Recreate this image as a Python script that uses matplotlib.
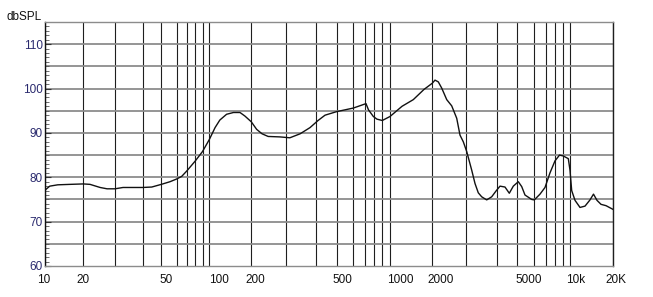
import numpy as np
import matplotlib
matplotlib.use('Agg')
import matplotlib.pyplot as plt
from matplotlib.ticker import MultipleLocator, NullLocator
import matplotlib.transforms as mtransforms

plt.rcParams['font.family'] = ['Liberation Sans', 'DejaVu Sans']

# ---- data ----
freq_hz = [10, 10.9, 12.6, 15.7, 20, 21.8, 24.8, 27.1, 30, 32.6, 40, 44.6, 50, 55.5, 60,
           64.9, 70, 80, 90, 100, 110, 119, 133, 149, 166, 180, 200, 213, 227, 244, 280,
           312, 344, 378, 409, 441, 500, 600, 710, 736, 789, 832, 900, 1005, 1222, 1468,
           1747, 2000, 2066, 2150, 2240, 2379, 2526, 2683, 2791, 2904, 3020, 3165, 3264,
           3366, 3475, 3642, 3817, 3974, 4145, 4376, 4585, 4788, 5054, 5242, 5430, 5835,
           6000, 6481, 6934, 7446, 8000, 8528, 9000, 9704, 9955, 10230, 10800, 11720,
           12720, 13800, 14610, 15470, 16520, 17930, 20000]
spl_db = [77.1, 78.0, 78.3, 78.4, 78.5, 78.4, 77.7, 77.4, 77.4, 77.7, 77.7, 77.8, 78.4, 79.0, 79.6,
          80.2, 81.4, 83.6, 85.8, 88.5, 91.2, 92.9, 94.2, 94.6, 94.6, 93.8, 92.5, 90.8, 89.8, 89.2, 89.1,
          88.9, 89.8, 91.2, 92.8, 94.0, 94.8, 95.6, 96.6, 95.2, 93.7, 93.1, 92.8, 93.7, 96.0, 97.5,
          99.8, 101.2, 101.9, 101.5, 100.1, 97.5, 96.1, 93.3, 89.5, 88.0, 85.8, 81.6, 78.6,
          76.5, 75.6, 74.9, 75.6, 76.9, 78.0, 77.8, 76.4, 78.0, 79.0, 77.9, 76.0, 75.0,
          74.9, 76.2, 77.7, 81.0, 83.7, 85.0, 84.8, 84.2, 81.6, 77.0, 74.8, 73.2,
          73.5, 74.9, 76.2, 74.8, 73.9, 73.6, 72.8]

x_tick_values = [10, 20, 50, 100, 200, 500, 1000, 2000, 5000, 10000, 20000]
x_tick_labels = ['10', '20', '50', '100', '200', '500', '1000', '2000', '5000', '10k', '20K']
y_tick_values = [60, 70, 80, 90, 100, 110]
y_unit = 'dbSPL'

# chart-paper frequency grid and its (non-uniform) placement on the paper
grid_f = [10, 20, 30, 40, 50, 60, 70, 80, 90,
          100, 200, 300, 400, 500, 600, 700, 800, 900,
          1000, 2000, 3000, 4000, 5000, 6000, 7000, 8000, 9000,
          10000, 20000]
grid_pos = [45, 83.3, 115, 142.7, 161.3, 176.5, 186.7, 195, 202.5,
            209.3, 251.3, 285.7, 316, 336.7, 353.3, 365, 374.3, 382.3,
            389.7, 432.3, 466, 496.7, 517.3, 534.3, 545.7, 555, 563.3,
            570.3, 612.7]
_lg = np.log10(grid_f)
_gp = np.array(grid_pos, dtype=float)


def fwd(f):
    f = np.asarray(f, dtype=float)
    return np.interp(np.log10(np.clip(f, 1e-6, None)), _lg, _gp)


def inv(p):
    return 10 ** np.interp(np.asarray(p, dtype=float), _gp, _lg)


W, H = 653, 297
fig = plt.figure(figsize=(W / 100, H / 100), dpi=100)
L, R, T, B = 45, 612.7, 22, 266
ax = fig.add_axes([L / W, 1 - B / H, (R - L) / W, (B - T) / H])
ax.set_xscale('function', functions=(fwd, inv))
ax.set_xlim(10, 20000)
ax.set_ylim(60, 115)

for f in grid_f:
    ax.axvline(f, color='#1e1e1e', lw=0.8, zorder=1)
for v in range(65, 115, 5):
    ax.axhline(v, color='#8c8c8c', lw=1.3, zorder=1)

ax.plot(freq_hz, spl_db, color='#111111', lw=1.0, zorder=3)

FS = 8.5
ax.set_xticks(x_tick_values, x_tick_labels)
ax.xaxis.set_minor_locator(NullLocator())
ax.tick_params(axis='x', which='both', length=0, pad=6, labelsize=FS, labelcolor='#111111')
offsets_px = [-1, -0.5, 4.5, 9.5, 4.5, 5.5, 11, 8, 11.5, 5, 3]
for lbl, dx in zip(ax.get_xticklabels(), offsets_px):
    lbl.set_transform(lbl.get_transform() + mtransforms.ScaledTranslation(dx / 100, 0, fig.dpi_scale_trans))

ax.set_yticks(y_tick_values)
ax.yaxis.set_minor_locator(MultipleLocator(1))
ax.tick_params(axis='y', which='major', direction='in', length=4, width=0.8, color='#333333',
               pad=1.5, labelsize=FS, labelcolor='#2a2a6e')
ax.tick_params(axis='y', which='minor', direction='in', length=3, width=0.6, color='#555555')

ax.spines['top'].set_color('#8c8c8c')
ax.spines['bottom'].set_color('#8c8c8c')
ax.spines['right'].set_color('#1e1e1e')
ax.spines['left'].set_color('#111111')
for s in ax.spines.values():
    s.set_linewidth(1.0)

fig.text(6 / W, 1 - 16.5 / H, y_unit, ha='left', va='center', fontsize=FS, color='#111111')

fig.savefig('out.png', dpi=100)
